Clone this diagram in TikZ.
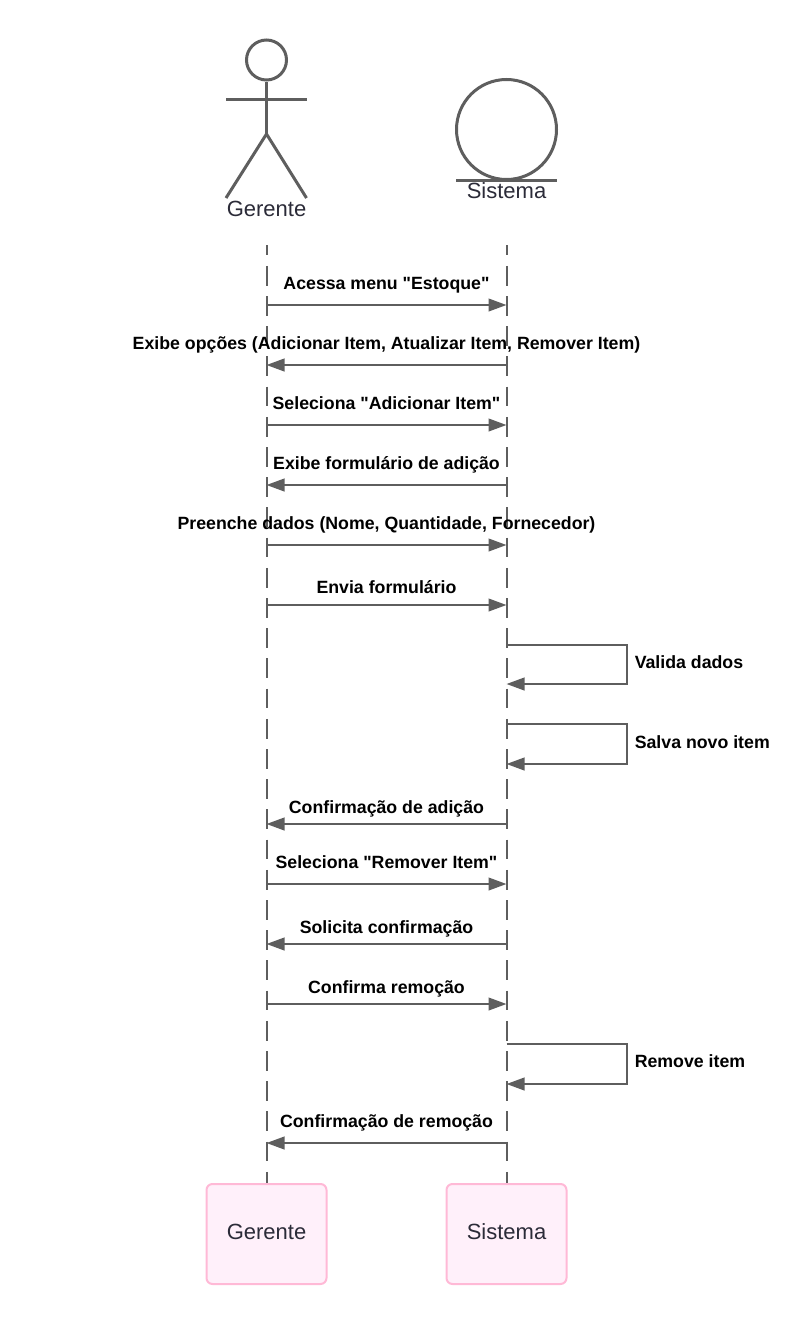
\documentclass[tikz,border=0pt]{standalone}
\usepackage{xcolor}
\usepackage{fontspec}
\setmainfont{Liberation Sans}
\newfontfamily\msgfont{Liberation Sans}
\usepackage{tikz}
\usetikzlibrary{arrows.meta,positioning}
\definecolor{linex}{HTML}{5E5E5E}
\definecolor{inkx}{HTML}{2B2B38}
\definecolor{pinkbd}{HTML}{FFB9D6}
\definecolor{pinkbg}{HTML}{FFF0FA}
\tikzset{
  ar/.style={-{Triangle[length=13.5pt,width=9.5pt]},line width=1.5pt,linex},
  life/.style={line width=1.5pt,linex,dash pattern=on 14.8pt off 7.85pt,dash phase=7pt},
  stick/.style={line width=2.25pt,linex},
  msg/.style={font=\msgfont\fontsize{13.3pt}{15pt}\selectfont\bfseries,text=black,inner sep=0pt,anchor=base},
  who/.style={font=\fontsize{16.5pt}{19pt}\selectfont,text=inkx,inner sep=0pt},
  box/.style={draw=pinkbd,line width=1.5pt,rounded corners=4.5pt,fill=pinkbg,minimum width=90pt,minimum height=75pt,text depth=3pt,who}
}
\begin{document}
\begin{tikzpicture}[x=0.75pt,y=-0.75pt]
\useasboundingbox (0,0) rectangle (810,1324);
% participants on top
\node[circle,draw=linex,line width=2.25pt,minimum size=30pt,inner sep=0pt] (head) at (266.5,60) {};
\coordinate (neck) at (266.5,134);
\coordinate (armL) at (226,99.5);
\coordinate (armR) at (306.5,99.5);
\coordinate (footL) at (226,198);
\coordinate (footR) at (306.5,198);
\draw[stick] (head.south)--(neck);
\draw[stick] (armL)--(armR);
\draw[stick] (footL)--(neck)--(footR);
\node[who] (gerenteT) at (266.5,208.5) {Gerente};
\node[circle,draw=linex,line width=2.25pt,minimum size=75pt,inner sep=0pt] (ent) at (506.5,129.5) {};
\coordinate (baseL) at (456,180.5);
\coordinate (baseR) at (556.5,180.5);
\draw[stick] (baseL)--(baseR);
\node[who] (sistemaT) at (506.5,190.5) {Sistema};
% participants at the bottom
\node[box] (gerenteB) at (266.5,1234) {Gerente};
\node[box] (sistemaB) at (506.5,1234) {Sistema};
% lifelines
\coordinate (gerenteS) at (266.5,245);
\coordinate (sistemaS) at (506.5,245);
\draw[life] (gerenteS)--(gerenteB.north);
\draw[life] (sistemaS)--(sistemaB.north);
% messages
\foreach \n/\yy in {a/305,b/365,c/425,d/485,e/545,f/605,g/645,h/684,i/724,j/764,k/824,l/884,m/944,n/1004,o/1044,p/1084,q/1143}{
  \coordinate (g\n) at (266.5,\yy);
  \coordinate (s\n) at (506.5,\yy);
}
\draw[ar] (ga)--(sa);
\draw[ar] (sb)--(gb);
\draw[ar] (gc)--(sc);
\draw[ar] (sd)--(gd);
\draw[ar] (ge)--(se);
\draw[ar] (gf)--(sf);
\draw[ar] (sg)--++(120,0)|-(sh);
\draw[ar] (si)--++(120,0)|-(sj);
\draw[ar] (sk)--(gk);
\draw[ar] (gl)--(sl);
\draw[ar] (sm)--(gm);
\draw[ar] (gn)--(sn);
\draw[ar] (so)--++(120,0)|-(sp);
\draw[ar] (sq)--(gq);
% labels
\node[msg] (la) at (386.5,289) {Acessa menu "Estoque"};
\node[msg] (lb) at (386.5,349) {Exibe opções (Adicionar Item, Atualizar Item, Remover Item)};
\node[msg] (lc) at (386.5,409) {Seleciona "Adicionar Item"};
\node[msg] (ld) at (386.5,469) {Exibe formulário de adição};
\node[msg] (le) at (386.5,529) {Preenche dados (Nome, Quantidade, Fornecedor)};
\node[msg] (lf) at (386.5,593) {Envia formulário};
\node[msg,anchor=base west] (lg) at (634.5,668) {Valida dados};
\node[msg,anchor=base west] (li) at (634.5,748) {Salva novo item};
\node[msg] (lk) at (386.5,813) {Confirmação de adição};
\node[msg] (ll) at (386.5,868) {Seleciona "Remover Item"};
\node[msg] (lm) at (386.5,933) {Solicita confirmação};
\node[msg] (ln) at (386.5,993) {Confirma remoção};
\node[msg,anchor=base west] (lo) at (634.5,1067) {Remove item};
\node[msg] (lq) at (386.5,1127.5) {Confirmação de remoção};
\end{tikzpicture}
\end{document}
